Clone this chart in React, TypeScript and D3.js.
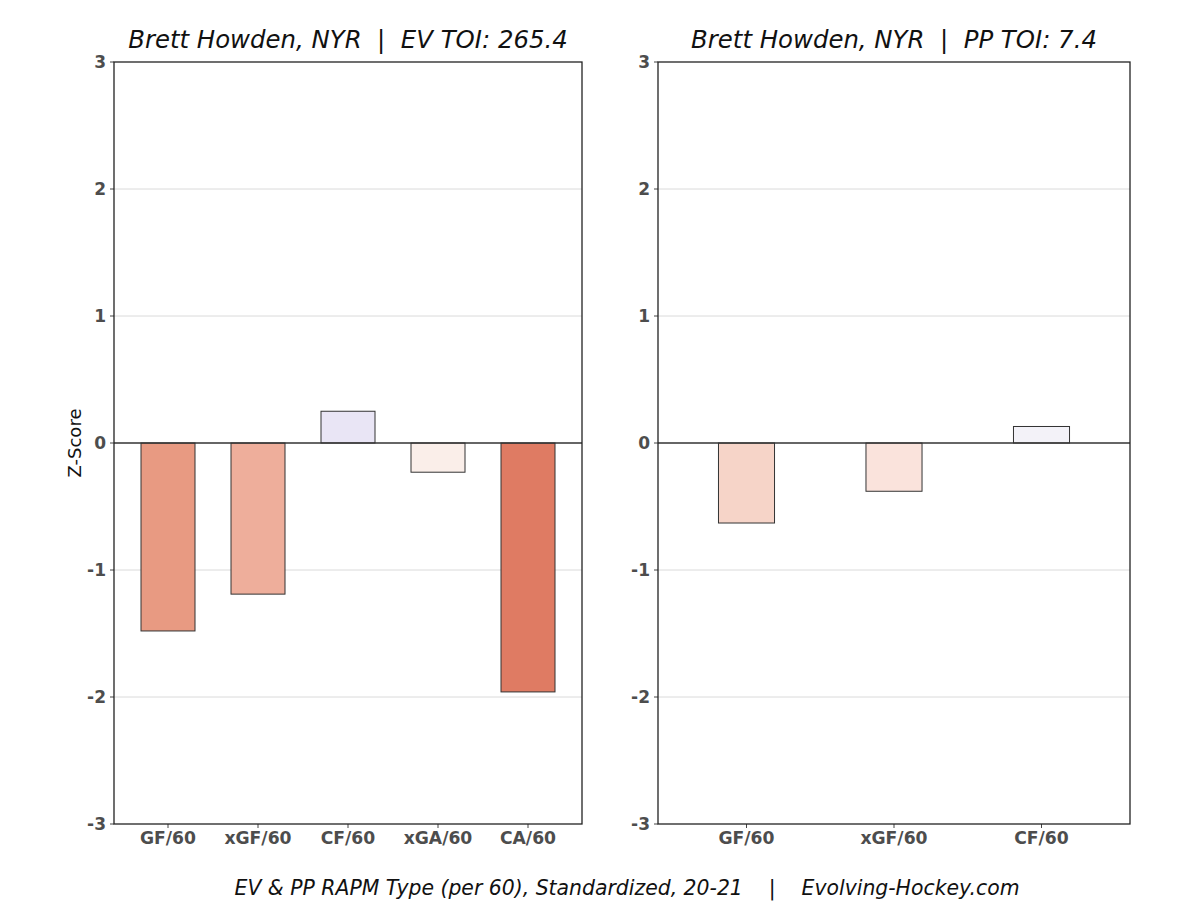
import React from "react";
import * as d3 from "d3";

const evCategories = ["GF/60", "xGF/60", "CF/60", "xGA/60", "CA/60"];
const evValues = [-1.48, -1.19, 0.25, -0.23, -1.96];
const evColors = ["#e89a82", "#eeae9b", "#e9e5f5", "#faeee9", "#df7b63"];

const ppCategories = ["GF/60", "xGF/60", "CF/60"];
const ppValues = [-0.63, -0.38, 0.13];
const ppColors = ["#f6d4c8", "#fae3dc", "#f3f2f8"];

const yTicks = [-3, -2, -1, 0, 1, 2, 3];

const evTitle = "Brett Howden, NYR  |  EV TOI: 265.4";
const ppTitle = "Brett Howden, NYR  |  PP TOI: 7.4";
const caption = "EV & PP RAPM Type (per 60), Standardized, 20-21    |    Evolving-Hockey.com";

const FONT = "DejaVu Sans, sans-serif";

function Panel({ x0, x1, categories, values, colors, title, barWidth, showYLabel }) {
  const top = 62;
  const bottom = 824;
  const y = d3.scaleLinear().domain([-3, 3]).range([bottom, top]);
  const x = d3.scaleLinear().domain([-0.6, categories.length - 0.4]).range([x0, x1]);
  return (
    <g>
      {yTicks.map((t) => (
        <g key={t}>
          {t !== 0 && t !== 3 && t !== -3 && (
            <line x1={x0} x2={x1} y1={y(t)} y2={y(t)} stroke="#d0d0d0" strokeWidth={0.8} />
          )}
          <line x1={x0 - 4} x2={x0} y1={y(t)} y2={y(t)} stroke="#444" strokeWidth={1} />
          <text x={x0 - 8} y={y(t)} dy="0.35em" textAnchor="end" fontFamily={FONT} fontWeight="bold" fontSize={17} fill="#4d4d4d">
            {t}
          </text>
        </g>
      ))}
      {values.map((v, i) => {
        const cx = x(i);
        const w = x(barWidth) - x(0);
        return (
          <rect
            key={i}
            x={cx - w / 2}
            y={y(Math.max(0, v))}
            width={w}
            height={Math.abs(y(v) - y(0))}
            fill={colors[i]}
            stroke="#333"
            strokeWidth={1}
          />
        );
      })}
      <line x1={x0} x2={x1} y1={y(0)} y2={y(0)} stroke="#333" strokeWidth={1.5} />
      {categories.map((c, i) => (
        <g key={c}>
          <line x1={x(i)} x2={x(i)} y1={bottom} y2={bottom + 4} stroke="#444" strokeWidth={1} />
          <text x={x(i)} y={bottom + 20} textAnchor="middle" fontFamily={FONT} fontWeight="bold" fontSize={17.2} fill="#4d4d4d">
            {c}
          </text>
        </g>
      ))}
      <rect x={x0} y={top} width={x1 - x0} height={bottom - top} fill="none" stroke="#222" strokeWidth={1.3} />
      <text x={(x0 + x1) / 2} y={48} textAnchor="middle" fontFamily={FONT} fontStyle="italic" fontSize={24.4} fill="#111" style={{ whiteSpace: "pre" }}>
        {title}
      </text>
      {showYLabel && (
        <text transform={`translate(81,${(top + bottom) / 2}) rotate(-90)`} textAnchor="middle" fontFamily={FONT} fontSize={18} fill="#111">
          Z-Score
        </text>
      )}
    </g>
  );
}

export default function App() {
  return (
    <svg width={1200} height={903} style={{ position: "absolute", left: 0, top: 0, background: "#fff" }}>
      <rect width={1200} height={903} fill="#fff" />
      <Panel x0={114} x1={582} categories={evCategories} values={evValues} colors={evColors} title={evTitle} barWidth={0.6} showYLabel={true} />
      <Panel x0={658} x1={1130} categories={ppCategories} values={ppValues} colors={ppColors} title={ppTitle} barWidth={0.38} showYLabel={false} />
      <text x={627} y={895} textAnchor="middle" fontFamily={FONT} fontStyle="italic" fontSize={20.4} fill="#111" style={{ whiteSpace: "pre" }}>
        {caption}
      </text>
    </svg>
  );
}
